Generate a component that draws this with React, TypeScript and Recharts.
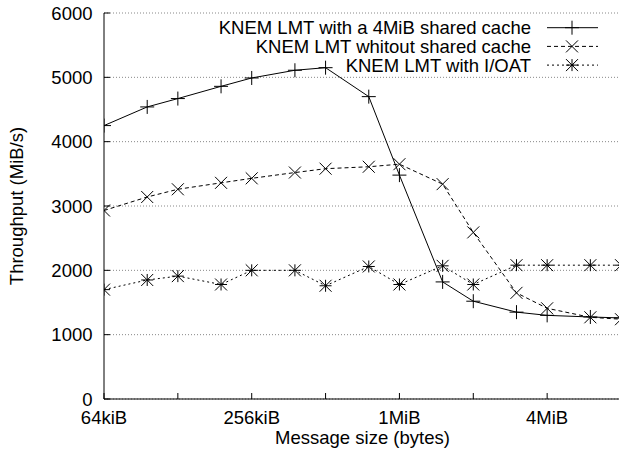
import React from 'react';
import { LineChart, Line, XAxis, YAxis, CartesianGrid, Legend, Label } from 'recharts';

// message sizes in KiB (64KiB .. 8MiB)
const sizesKiB = [64, 96, 128, 192, 256, 384, 512, 768, 1024, 1536, 2048, 3072, 4096, 6144, 8192];
const sharedCache = [4250, 4540, 4670, 4860, 4990, 5110, 5150, 4700, 3480, 1820, 1520, 1350, 1300, 1275, 1260];
const noSharedCache = [2930, 3140, 3260, 3360, 3430, 3520, 3580, 3610, 3650, 3340, 2590, 1650, 1410, 1270, 1240];
const ioat = [1700, 1850, 1910, 1780, 2000, 2000, 1760, 2060, 1780, 2070, 1780, 2080, 2080, 2080, 2080];

const xTicks = [64, 128, 256, 512, 1024, 2048, 4096, 8192];
const xTickLabels: Record<number, string> = { 64: '64kiB', 256: '256kiB', 1024: '1MiB', 4096: '4MiB' };
const yTicks = [0, 1000, 2000, 3000, 4000, 5000, 6000];

const data = sizesKiB.map((size, i) => ({
  size,
  shared: sharedCache[i],
  noShared: noSharedCache[i],
  ioat: ioat[i],
}));

type MarkerType = 'plus' | 'cross' | 'star';

const series: { key: string; name: string; dash?: string; marker: MarkerType }[] = [
  { key: 'shared', name: 'KNEM LMT with a 4MiB shared cache', marker: 'plus' },
  { key: 'noShared', name: 'KNEM LMT whitout shared cache', dash: '4 3', marker: 'cross' },
  { key: 'ioat', name: 'KNEM LMT with I/OAT', dash: '2 3', marker: 'star' },
];

const FONT = '"Liberation Sans", Arial, Helvetica, sans-serif';
const FS = 18.5;

const Marker = ({ type, cx, cy }: { type: MarkerType; cx: number; cy: number }) => {
  if (cx == null || cy == null) return null;
  const p = 7;
  const c = 6;
  const s = 6;
  let d = '';
  if (type === 'plus') d = `M${cx - p},${cy}H${cx + p}M${cx},${cy - p}V${cy + p}`;
  if (type === 'cross') d = `M${cx - c},${cy - c}L${cx + c},${cy + c}M${cx - c},${cy + c}L${cx + c},${cy - c}`;
  if (type === 'star')
    d = `M${cx - s},${cy}H${cx + s}M${cx},${cy - s}V${cy + s}M${cx - s},${cy - s}L${cx + s},${cy + s}M${cx - s},${cy + s}L${cx + s},${cy - s}`;
  return <path d={d} stroke="#000" strokeWidth={1} fill="none" />;
};

const BottomTick = (props: any) => {
  const { x, y, payload } = props;
  const label = xTickLabels[payload.value];
  return (
    <g>
      <line x1={x} x2={x} y1={y} y2={y - 6} stroke="#000" />
      {label && (
        <text x={x} y={y + 24.5} textAnchor="middle" fontSize={FS} fontFamily={FONT} fill="#000">
          {label}
        </text>
      )}
    </g>
  );
};

const TopTick = (props: any) => {
  const { x, y } = props;
  return <line x1={x} x2={x} y1={y} y2={y + 6} stroke="#000" />;
};

const LeftTick = (props: any) => {
  const { x, y, payload } = props;
  return (
    <g>
      <line x1={x} x2={x + 6} y1={y} y2={y} stroke="#000" />
      <text x={x - 11.5} y={y + 6.5} textAnchor="end" fontSize={FS} fontFamily={FONT} fill="#000">
        {payload.value}
      </text>
    </g>
  );
};

const LegendBox = () => (
  <svg width={640} height={80} style={{ display: 'block' }}>
    {series.map((s, i) => {
      const y = 27.7 + i * 18.7;
      return (
        <g key={s.key}>
          <text x={531} y={y + 6.5} textAnchor="end" fontSize={FS} fontFamily={FONT} fill="#000">
            {s.name}
          </text>
          <line x1={547} x2={598} y1={y} y2={y} stroke="#000" strokeDasharray={s.dash} />
          <Marker type={s.marker} cx={572} cy={y} />
        </g>
      );
    })}
  </svg>
);

export default function App() {
  return (
    <div style={{ position: 'absolute', left: 0, top: 0, width: 619, height: 457, overflow: 'hidden', background: '#fff' }}>
      <LineChart width={640} height={457} data={data} margin={{ top: 13, right: 19, bottom: 0, left: 0 }}>
        <CartesianGrid vertical={false} stroke="#888" strokeDasharray="1 2" />
        <XAxis
          dataKey="size"
          type="number"
          scale="log"
          domain={[64, 8192]}
          ticks={xTicks}
          interval={0}
          allowDataOverflow
          height={58}
          tickSize={0}
          tickMargin={0}
          tickLine={false}
          axisLine={{ stroke: '#000' }}
          tick={<BottomTick />}
        >
          <Label
            content={(p: any) => {
              const vb = p.viewBox || { x: 104, y: 399, width: 517 };
              return (
                <text x={vb.x + vb.width / 2} y={vb.y + 44.5} textAnchor="middle" fontSize={FS} fontFamily={FONT} fill="#000">
                  Message size (bytes)
                </text>
              );
            }}
          />
        </XAxis>
        <XAxis
          xAxisId="top"
          orientation="top"
          dataKey="size"
          type="number"
          scale="log"
          domain={[64, 8192]}
          ticks={xTicks}
          interval={0}
          allowDataOverflow
          height={0}
          tickSize={0}
          tickMargin={0}
          tickLine={false}
          axisLine={{ stroke: '#000' }}
          tick={<TopTick />}
        />
        <YAxis
          type="number"
          domain={[0, 6000]}
          ticks={yTicks}
          interval={0}
          width={104}
          tickSize={0}
          tickMargin={0}
          tickLine={false}
          axisLine={{ stroke: '#000' }}
          tick={<LeftTick />}
        >
          <Label
            content={(p: any) => {
              const vb = p.viewBox || { x: 0, y: 13, width: 104, height: 386 };
              const cx = vb.x + 23;
              const cy = vb.y + vb.height / 2;
              return (
                <text x={cx} y={cy} transform={`rotate(-90 ${cx} ${cy})`} textAnchor="middle" fontSize={FS} fontFamily={FONT} fill="#000">
                  Throughput (MiB/s)
                </text>
              );
            }}
          />
        </YAxis>
        <Legend
          layout="horizontal"
          verticalAlign="middle"
          align="center"
          wrapperStyle={{ position: 'absolute', top: 0, left: 0, width: 640, height: 80 }}
          content={() => <LegendBox />}
        />
        {series.map((s) => (
          <Line
            key={s.key}
            dataKey={s.key}
            name={s.name}
            type="linear"
            stroke="#000"
            strokeWidth={1}
            strokeDasharray={s.dash}
            isAnimationActive={false}
            activeDot={false}
            dot={(props: any) => <Marker key={`${s.key}-${props.index}`} type={s.marker} cx={props.cx} cy={props.cy} />}
          />
        ))}
      </LineChart>
    </div>
  );
}
